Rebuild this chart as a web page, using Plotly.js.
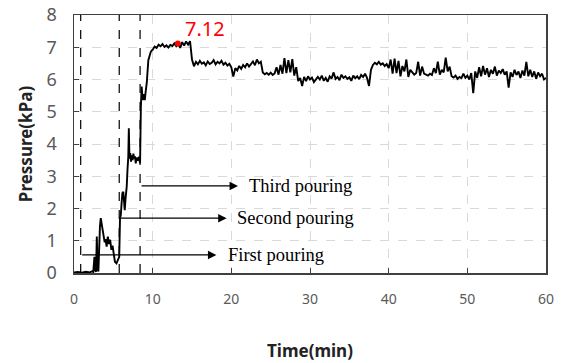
<!DOCTYPE html>
<html>
<head>
<meta charset="utf-8">
<script src="https://cdn.plot.ly/plotly-3.0.1.min.js"></script>
<style>html,body{margin:0;padding:0;background:#fff;}#chart{width:566px;height:363px;}</style>
</head>
<body>
<div id="chart"></div>
<script>
// Pressure record (time in min, pressure in kPa)
const timeEarly = [0, 0.5, 1.0, 1.5, 2.0, 2.3, 2.45, 2.6, 2.7, 2.8, 2.9, 3.0, 3.1, 3.2, 3.3, 3.4, 3.5, 3.6, 3.7, 3.8, 3.9, 4.0, 4.15, 4.3, 4.45, 4.6, 4.75, 4.9, 5.05, 5.2, 5.4, 5.6, 5.75, 5.85, 5.95, 6.05, 6.15, 6.27, 6.35, 6.45, 6.55, 6.7, 6.8, 6.9, 6.97, 7.05, 7.15, 7.25, 7.35, 7.45, 7.55, 7.65, 7.75, 7.85, 7.95, 8.1, 8.25, 8.4, 8.5, 8.6, 8.7, 8.8, 8.9, 9.0, 9.1, 9.25, 9.45, 9.6, 9.75, 9.9];
const pressEarly = [0.02, 0.03, 0.01, 0.04, 0.02, 0.05, 0.03, 0.50, 0.08, 0.04, 1.13, 0.10, 0.05, 0.90, 1.45, 1.70, 1.55, 1.33, 1.25, 1.10, 0.95, 1.05, 0.82, 1.13, 0.90, 1.03, 0.72, 0.85, 0.55, 0.35, 0.30, 0.45, 0.50, 1.70, 1.80, 2.16, 2.48, 2.52, 2.00, 1.95, 2.30, 2.68, 3.20, 3.60, 4.49, 3.55, 3.72, 3.45, 3.65, 3.50, 3.70, 3.55, 3.62, 3.40, 3.58, 3.48, 3.60, 3.40, 5.15, 5.78, 5.47, 5.36, 5.55, 5.36, 5.60, 5.90, 6.60, 6.75, 6.85, 6.91];
const timeLate = [10.0, 10.25, 10.5, 10.75, 11.0, 11.25, 11.5, 11.75, 12.0, 12.25, 12.5, 12.75, 13.0, 13.25, 13.5, 13.75, 14.0, 14.25, 14.5, 14.75,
  15.0, 15.25, 15.5, 15.75, 16.0, 16.25, 16.5, 16.75, 17.0, 17.25, 17.5, 17.75, 18.0, 18.25, 18.5, 18.75, 19.0, 19.25, 19.5, 19.75,
  20.0, 20.25, 20.5, 20.75, 21.0, 21.25, 21.5, 21.75, 22.0, 22.25, 22.5, 22.75, 23.0, 23.25, 23.5, 23.75, 24.0, 24.25, 24.5, 24.75,
  25.0, 25.25, 25.5, 25.75, 26.0, 26.25, 26.5, 26.75, 27.0, 27.25, 27.5, 27.75, 28.0, 28.25, 28.5, 28.75, 29.0, 29.25, 29.5, 29.75,
  30.0, 30.25, 30.5, 30.75, 31.0, 31.25, 31.5, 31.75, 32.0, 32.25, 32.5, 32.75, 33.0, 33.25, 33.5, 33.75, 34.0, 34.25, 34.5, 34.75,
  35.0, 35.25, 35.5, 35.75, 36.0, 36.25, 36.5, 36.75, 37.0, 37.25, 37.5, 37.75, 38.0, 38.25, 38.5, 38.75, 39.0, 39.25, 39.5, 39.75,
  40.0, 40.25, 40.5, 40.75, 41.0, 41.25, 41.5, 41.75, 42.0, 42.25, 42.5, 42.75, 43.0, 43.25, 43.5, 43.75, 44.0, 44.25, 44.5, 44.75,
  45.0, 45.25, 45.5, 45.75, 46.0, 46.25, 46.5, 46.75, 47.0, 47.25, 47.5, 47.75, 48.0, 48.25, 48.5, 48.75, 49.0, 49.25, 49.5, 49.75,
  50.0, 50.25, 50.5, 50.75, 51.0, 51.25, 51.5, 51.75, 52.0, 52.25, 52.5, 52.75, 53.0, 53.25, 53.5, 53.75, 54.0, 54.25, 54.5, 54.75,
  55.0, 55.25, 55.5, 55.75, 56.0, 56.25, 56.5, 56.75, 57.0, 57.25, 57.5, 57.75, 58.0, 58.25, 58.5, 58.75, 59.0, 59.25, 59.5, 59.75, 60.0];
const pressLate = [6.92, 7.02, 6.98, 7.08, 7.03, 7.10, 7.01, 7.06, 6.99, 7.07, 7.04, 7.12, 7.03, 7.10, 6.98, 7.16, 7.05, 7.18, 7.08, 7.19,
  6.62, 6.41, 6.55, 6.47, 6.58, 6.49, 6.53, 6.44, 6.56, 6.48, 6.52, 6.60, 6.47, 6.55, 6.50, 6.58, 6.46, 6.52, 6.43, 6.49,
  6.38, 6.09, 6.35, 6.28, 6.42, 6.33, 6.45, 6.38, 6.50, 6.40, 6.47, 6.56, 6.44, 6.62, 6.50, 6.55, 6.22, 6.16, 6.20, 6.15,
  6.21, 6.14, 6.19, 6.38, 6.15, 6.45, 6.18, 6.66, 6.20, 6.60, 6.22, 6.63, 6.12, 6.38, 5.95, 6.05, 5.80, 6.08, 5.95, 6.10,
  6.00, 6.06, 5.92, 6.02, 6.08, 6.00, 6.12, 5.96, 6.05, 5.93, 6.10, 6.03, 6.22, 6.02, 6.08, 5.98, 6.15, 6.05, 6.10, 6.02,
  6.07, 5.96, 6.12, 6.04, 6.10, 6.01, 6.14, 6.08, 6.18, 6.05, 5.80, 6.30, 6.45, 6.52, 6.47, 6.55, 6.46, 6.50, 6.42, 6.48,
  6.35, 6.62, 6.18, 6.65, 6.20, 6.58, 6.10, 6.42, 6.25, 6.62, 6.08, 6.30, 6.22, 6.15, 6.20, 6.55, 6.12, 6.40, 6.18, 6.16,
  6.12, 6.18, 6.14, 6.35, 6.20, 6.55, 6.15, 6.30, 6.22, 6.68, 6.25, 6.40, 6.10, 6.06, 6.12, 6.02, 6.08, 6.04, 6.18, 6.05,
  6.12, 6.00, 6.20, 5.58, 6.25, 6.05, 6.38, 6.10, 6.42, 6.15, 6.35, 6.08, 6.30, 6.18, 6.40, 6.12, 6.28, 6.20, 6.32, 6.15,
  6.25, 5.75, 6.22, 6.08, 6.30, 6.14, 6.25, 6.05, 6.28, 6.12, 6.55, 6.10, 6.30, 6.08, 6.25, 6.02, 6.22, 6.10, 6.18, 6.00, 6.05];

// Pouring events
const pourTimes = [0.85, 5.75, 8.4];
const pourLabels = ["First pouring", "Second pouring", "Third pouring"];
const pourArrowY = [0.56, 1.70, 2.70];
const pourArrowEnd = [18.1, 19.4, 20.85];
const pourTextX = [19.3, 20.5, 22.0];

// Peak
const peakX = [13.2];
const peakY = [7.12];
const peakLabel = "7.12";

const xTicks = [0, 10, 20, 30, 40, 50, 60];
const yTicks = [0, 1, 2, 3, 4, 5, 6, 7, 8];

const traces = [];
pourTimes.forEach(t => {
  traces.push({x: [t, t], y: [0, 8], mode: 'lines', line: {color: '#000', width: 1.2, dash: 'dash'}, hoverinfo: 'skip', showlegend: false});
});
traces.push({x: timeEarly.concat(timeLate), y: pressEarly.concat(pressLate), mode: 'lines', line: {color: '#000', width: 1.9}, showlegend: false});
traces.push({x: peakX, y: peakY, mode: 'markers', marker: {color: '#ff0000', size: 6}, showlegend: false});

const annotations = [];
pourTimes.forEach((t, i) => {
  annotations.push({x: pourArrowEnd[i], y: pourArrowY[i], ax: t, ay: pourArrowY[i], xref: 'x', yref: 'y', axref: 'x', ayref: 'y',
    text: '', showarrow: true, arrowhead: 2, arrowsize: 1.3, arrowwidth: 1.3, arrowcolor: '#000'});
  annotations.push({x: pourTextX[i], y: pourArrowY[i], xref: 'x', yref: 'y', text: pourLabels[i], showarrow: false,
    xanchor: 'left', yanchor: 'middle', font: {family: 'Liberation Serif, serif', size: 18.5, color: '#000'}});
});
annotations.push({x: peakX[0], y: peakY[0], xref: 'x', yref: 'y', text: peakLabel, showarrow: false, xanchor: 'left', yanchor: 'bottom',
  xshift: 5, yshift: -1, font: {family: 'Noto Sans, sans-serif', size: 20, color: '#ff0000'}});

const layout = {
  width: 566, height: 363,
  margin: {l: 74, r: 20, t: 15, b: 90},
  paper_bgcolor: '#fff', plot_bgcolor: '#fff',
  xaxis: {range: [0, 60], tickvals: xTicks, ticktext: xTicks.map(String), showgrid: true, gridcolor: '#d9d9d9', griddash: 'dash', gridwidth: 1,
    zeroline: false, showline: true, linecolor: '#404040', linewidth: 1.5, mirror: true, ticks: 'inside', ticklen: 5, tickcolor: '#404040',
    tickfont: {family: 'Noto Sans, sans-serif', size: 14, color: '#595959'}, ticklabelstandoff: 13,
    title: {text: 'Time(min)', font: {family: 'Noto Sans, sans-serif', size: 17, color: '#222', weight: 'bold'}, standoff: 38}},
  yaxis: {range: [0, 8], tickvals: yTicks, ticktext: yTicks.map(String), showgrid: true, gridcolor: '#d9d9d9', griddash: 'dash', gridwidth: 1,
    zeroline: false, showline: true, linecolor: '#404040', linewidth: 1.5, mirror: true, ticks: 'inside', ticklen: 5, tickcolor: '#404040',
    tickfont: {family: 'Noto Sans, sans-serif', size: 18, color: '#595959'}, ticklabelstandoff: 12,
    title: {text: 'Pressure(kPa)', font: {family: 'Noto Sans, sans-serif', size: 17, color: '#222', weight: 'bold'}, standoff: 9}},
  annotations: annotations,
  showlegend: false
};
Plotly.newPlot('chart', traces, layout, {displayModeBar: false, staticPlot: true});
</script>
</body>
</html>
